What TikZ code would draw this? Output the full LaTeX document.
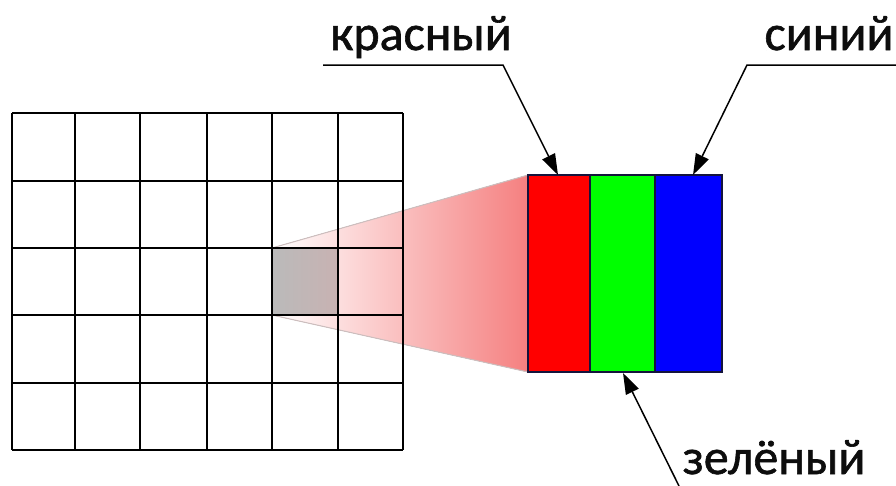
\documentclass[tikz,border=0pt]{standalone}
\usepackage{fontspec}
\setmainfont{Carlito}
\newfontfamily\lblfont{Carlito}[RawFeature={embolden=1.2}]
\usetikzlibrary{arrows.meta}
\definecolor{pinkend}{RGB}{245,128,128}
\definecolor{cellL}{RGB}{186,186,186}
\definecolor{cellR}{RGB}{200,178,178}
\definecolor{edge}{RGB}{20,20,60}
\definecolor{rred}{RGB}{255,0,0}
\definecolor{ggreen}{RGB}{0,255,0}
\definecolor{bblue}{RGB}{0,0,255}
\begin{document}
\begin{tikzpicture}[x=1pt,y=-1pt,
  gridline/.style={line width=2pt,black},
  leader/.style={line width=1.5pt,black},
  tipped/.style={-{Triangle[length=21pt,width=14pt]}},
  lbl/.style={font=\lblfont\fontsize{50}{58}\selectfont,text=black!95,inner sep=0pt,anchor=base},
  subpx/.style={draw=edge,line width=1.5pt,minimum height=197pt,inner sep=0pt,outer sep=0pt},
  cellbox/.style={minimum width=66pt,minimum height=67pt,inner sep=0pt,outer sep=0pt,left color=cellL,right color=cellR}
]
\useasboundingbox (0,0) rectangle (896,485);

% sub-pixel nodes
\node[subpx,fill=rred,minimum width=62pt] (r) at (559,273.5) {};
\node[subpx,fill=ggreen,minimum width=65pt] (g) at (622.5,273.5) {};
\node[subpx,fill=bblue,minimum width=67pt] (b) at (688.5,273.5) {};

% highlighted cell
\node[cellbox] (cell) at (305,281.5) {};

% magnification wedge
\fill[left color=white,right color=pinkend] (cell.north west) -- (r.north west) -- (r.south west) -- (cell.south west) -- cycle;
\draw[draw={rgb,255:red,205;green,190;blue,190},line width=1pt] (cell.north west) -- (r.north west) (cell.south west) -- (r.south west);
\node[cellbox] at (cell) {};
\node[subpx,fill=rred,minimum width=62pt] at (r) {};

% grid
\foreach \x in {12,75,140,207,272,338,403}
  \draw[gridline] (\x,113) -- (\x,450);
\foreach \y in {113,181,248,315,383,450}
  \draw[gridline] (12,\y) -- (403,\y);

% labels
\node[lbl] (lr) at (421,50) {красный};
\node[lbl] (lb) at (829,50) {синий};
\node[lbl] (lg) at (774,474) {зелёный};

\coordinate (r0) at (323,65);
\coordinate (r1) at (503,65);
\coordinate (b0) at (896,65);
\coordinate (b1) at (747,65);
\coordinate (g0) at (679,486);

\draw[leader,tipped] (r0) -- (r1) -- (558,175);
\draw[leader,tipped] (b0) -- (b1) -- (693,175);
\draw[leader,tipped] (g0) -- (623,373);
\end{tikzpicture}
\end{document}
